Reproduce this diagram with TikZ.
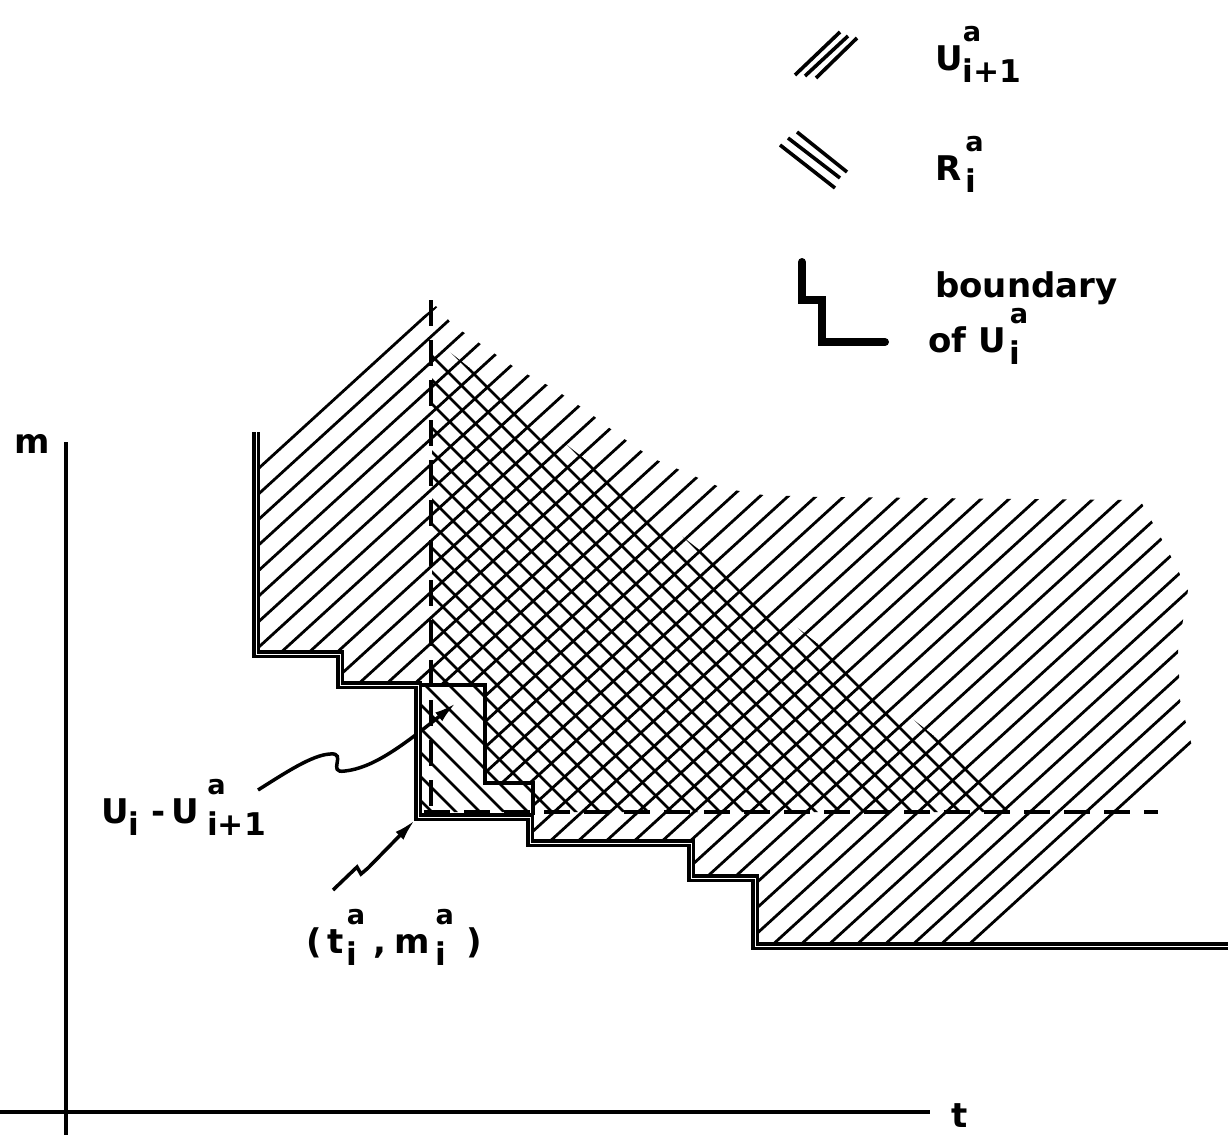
\documentclass[tikz,border=0pt]{standalone}
\usepackage{fontspec}
\setmainfont{DejaVu Sans}
\usetikzlibrary{arrows.meta}
% stacked super- and subscript, as in the hand lettering
\newcommand{\supsub}[2]{%
  \setbox0=\hbox{\scalebox{0.8}{#1}}%
  \setbox2=\hbox{\scalebox{0.92}{#2}}%
  \ifdim\wd0>\wd2 \dimen0=\wd0 \else \dimen0=\wd2 \fi
  \hbox to \dimen0{\rlap{\raise0.85em\box0}\lower0.36em\box2\hfil}}

\begin{document}
\begin{tikzpicture}[x=1pt, y=-1pt,
  lbl/.style={inner sep=0pt, anchor=base west, font=\fontsize{34}{38}\selectfont\bfseries},
  axis/.style={line width=3.6pt},
  hatch/.style={line width=2.8pt},
  keyline/.style={line width=3.6pt},
  bdry/.style={draw=black, line width=3.3pt, double=white, double distance=0.8pt},
  ubdry/.style={line width=3.5pt},
  dashln/.style={line width=3.5pt, dash pattern=on 26pt off 14pt},
  squig/.style={line width=3.5pt, -{Latex[length=22pt,width=11pt]}}
]
\useasboundingbox (0,0) rectangle (1228,1135);

% U_{i+1}^a
\begin{scope}
  \clip (258,448) -- (436,306) -- (453,325) -- (485,347) -- (517,369) -- (553,388)
    -- (587,411) -- (620,436) -- (652,458) -- (687,473) -- (722,488) -- (763,495)
    -- (820,497) -- (1140,500) -- (1165,545) -- (1188,590) -- (1178,650)
    -- (1180,700) -- (1193,750) -- (980,946) -- (755,946) -- (755,878)
    -- (691,878) -- (691,843) -- (533,843) -- (533,783) -- (485,783)
    -- (485,685) -- (340,685) -- (340,654) -- (258,654) -- cycle;
  \foreach \c in {-520,-492,...,1170}
    \draw[hatch] (\c,1000) -- ++(800,-730);
\end{scope}

% R_i^a
\begin{scope}
  \clip (432,338) -- (1030,812) -- (421,812) -- (421,685) -- (432,685) -- cycle;
  \foreach \d in {-100,-76,...,1000}
    \draw[hatch] (\d,280) -- ++(600,600);
\end{scope}

\draw[dashln] (431,300) -- (431,810);
\draw[dashln] (424,812) -- (1158,812);
\draw[ubdry] (418,685) -- (485,685) -- (485,783) -- (533,783) -- (533,815);

% labels
\node[lbl] (mlab) at (14,453) {m};
\node[lbl] (tlab) at (951,1127) {t};
\node[lbl] (ulab) at (101,823) {U\supsub{}{i}\kern12pt-\kern6pt U\kern8pt\supsub{a}{i+1}};
\node[lbl] (tmlab) at (306,953) {(\kern6pt t\kern3pt\supsub{a}{i}\kern8pt,\kern8pt m\kern6pt\supsub{a}{i}\kern12pt)};

\coordinate (uFrom) at (258,790);
\coordinate (uTo) at (456,703);
\coordinate (tmFrom) at (333,890);
\coordinate (tmTo) at (415,820);
\draw[squig] (uFrom) .. controls (285,773) and (312,755) .. (330,754)
  .. controls (348,752) and (326,774) .. (345,771)
  .. controls (372,768) and (400,748) .. (uTo);
\draw[squig] (tmFrom) -- (357,867) -- (361,874) -- (368,868) -- (tmTo);

% boundary of U_i^a
\draw[bdry] (256,432) -- (256,654) -- (340,654) -- (340,685) -- (418,685)
  -- (418,817) -- (530,817) -- (530,843) -- (691,843) -- (691,878)
  -- (755,878) -- (755,946) -- (1228,946);

% axes
\draw[axis] (66,442) -- (66,1135);
\draw[axis] (0,1112) -- (930,1112);

% key
\draw[keyline] (795,75) -- (840,32);
\draw[keyline] (805,76) -- (848,36);
\draw[keyline] (816,78) -- (857,38);
\draw[keyline] (780,145) -- (835,188);
\draw[keyline] (788,138) -- (840,178);
\draw[keyline] (797,132) -- (847,172);
\draw[line width=8pt, line cap=round] (802,262) -- (802,300) -- (822,300) -- (822,342) -- (885,342);
\node[lbl] (keyU) at (935,70) {U\supsub{a}{i+1}};
\node[lbl] (keyR) at (935,180) {R\kern4pt\supsub{a}{i}};
\node[lbl] (keyB) at (935,297) {boundary};
\node[lbl] (keyO) at (928,352) {of\kern12pt U\kern4pt\supsub{a}{i}};
\end{tikzpicture}
\end{document}
